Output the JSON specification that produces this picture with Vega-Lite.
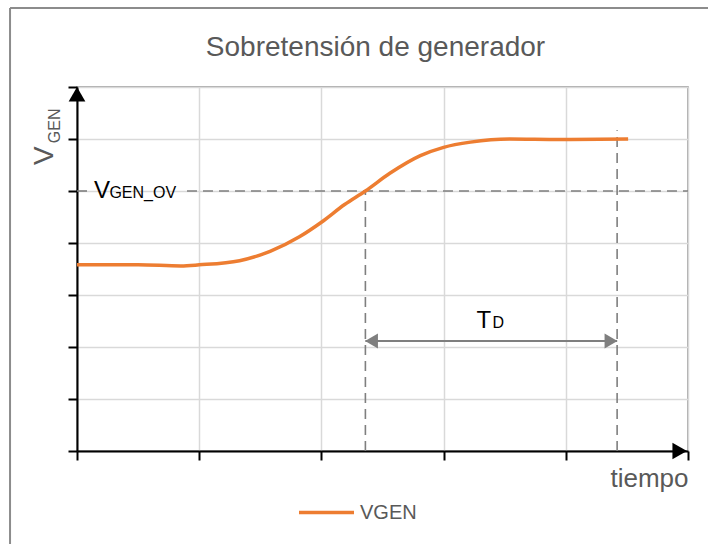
{
  "$schema": "https://vega.github.io/schema/vega-lite/v6.json",
  "width": 611,
  "height": 364,
  "autosize": "none",
  "padding": {"left": 77, "top": 87, "right": 20, "bottom": 93},
  "background": "white",
  "title": {"text": "Sobretensión de generador", "fontSize": 28, "font": "Liberation Sans", "fontWeight": "normal", "color": "#595959", "baseline": "alphabetic", "offset": 0, "dy": 77, "dx": -7},
  "config": {"view": {"stroke": "#8c8c8c", "strokeWidth": 1.5}, "font": "Liberation Sans"},
  "datasets": {
    "curve": [
      {"x": 0.0, "y": 3.58, "serie": "VGEN"},
      {"x": 0.5, "y": 3.58, "serie": "VGEN"},
      {"x": 0.85, "y": 3.56, "serie": "VGEN"},
      {"x": 1.0, "y": 3.58, "serie": "VGEN"},
      {"x": 1.33, "y": 3.66, "serie": "VGEN"},
      {"x": 1.58, "y": 3.84, "serie": "VGEN"},
      {"x": 1.82, "y": 4.12, "serie": "VGEN"},
      {"x": 2.0, "y": 4.4, "serie": "VGEN"},
      {"x": 2.19, "y": 4.74, "serie": "VGEN"},
      {"x": 2.36, "y": 5.0, "serie": "VGEN"},
      {"x": 2.56, "y": 5.34, "serie": "VGEN"},
      {"x": 2.81, "y": 5.68, "serie": "VGEN"},
      {"x": 3.0, "y": 5.84, "serie": "VGEN"},
      {"x": 3.22, "y": 5.94, "serie": "VGEN"},
      {"x": 3.54, "y": 6.0, "serie": "VGEN"},
      {"x": 3.95, "y": 5.99, "serie": "VGEN"},
      {"x": 4.51, "y": 6.0, "serie": "VGEN"}
    ],
    "guides": [
      {"x": 0.0, "y": 5.0, "x2": 0.1, "y2": 5.0},
      {"x": 0.9, "y": 5.0, "x2": 5.0, "y2": 5.0},
      {"x": 2.36, "y": 0.0, "x2": 2.36, "y2": 5.0},
      {"x": 4.42, "y": 0.0, "x2": 4.42, "y2": 6.17}
    ],
    "span": [{"x": 2.36, "x2": 4.42, "y": 2.115}],
    "headLeft": [{"x": 2.41, "y": 2.115}],
    "headRight": [{"x": 4.37, "y": 2.115}],
    "axisUp": [{"x": 0.0, "y": 6.86}],
    "axisRight": [{"x": 4.932, "y": 0.0}],
    "bigText": [
      {"x": 0.139, "y": 4.865, "label": "V"},
      {"x": 3.27, "y": 2.356, "label": "T"}
    ],
    "subText": [
      {"x": 0.265, "y": 4.865, "label": "GEN_OV"},
      {"x": 3.4, "y": 2.356, "label": "D"}
    ],
    "axisBig": [{"x": -0.196, "y": 5.5, "label": "V"}],
    "axisSub": [{"x": -0.139, "y": 5.92, "label": "GEN"}],
    "frame": [
      {"x": -0.548, "y": -2.0, "x2": -0.548, "y2": 8.52},
      {"x": -0.548, "y": 8.52, "x2": 5.4, "y2": 8.52}
    ]
  },
  "encoding": {
    "x": {
      "field": "x", "type": "quantitative",
      "scale": {"domain": [0, 5], "nice": false, "zero": false},
      "axis": {
        "values": [0, 1, 2, 3, 4, 5], "labels": false, "grid": true, "gridColor": "#d9d9d9", "gridWidth": 1.5,
        "domainColor": "#000000", "domainWidth": 2, "tickColor": "#000000", "tickWidth": 2, "tickSize": 9,
        "title": "tiempo", "titleAnchor": "end", "titleAlign": "right", "titleFontSize": 26, "titleFontWeight": "normal",
        "titleColor": "#595959", "titleFont": "Liberation Sans", "titlePadding": 4
      }
    },
    "y": {
      "field": "y", "type": "quantitative",
      "scale": {"domain": [0, 7], "nice": false, "zero": false},
      "axis": {
        "values": [0, 1, 2, 3, 4, 5, 6, 7], "labels": false, "grid": true, "gridColor": "#d9d9d9", "gridWidth": 1.5,
        "domainColor": "#000000", "domainWidth": 2, "tickColor": "#000000", "tickWidth": 2, "tickSize": 9, "title": null
      }
    }
  },
  "layer": [
    {
      "data": {"name": "frame"},
      "mark": {"type": "rule", "color": "#8c8c8c", "strokeWidth": 2},
      "encoding": {"x2": {"field": "x2"}, "y2": {"field": "y2"}}
    },
    {
      "data": {"name": "guides"},
      "mark": {"type": "rule", "color": "#7f7f7f", "strokeWidth": 1.6, "strokeDash": [10, 6]},
      "encoding": {"x2": {"field": "x2"}, "y2": {"field": "y2"}}
    },
    {
      "data": {"name": "span"},
      "mark": {"type": "rule", "color": "#7f7f7f", "strokeWidth": 2},
      "encoding": {"x2": {"field": "x2"}}
    },
    {
      "data": {"name": "headLeft"},
      "mark": {"type": "point", "shape": "triangle-left", "filled": true, "color": "#7f7f7f", "size": 220, "opacity": 1}
    },
    {
      "data": {"name": "headRight"},
      "mark": {"type": "point", "shape": "triangle-right", "filled": true, "color": "#7f7f7f", "size": 220, "opacity": 1}
    },
    {
      "data": {"name": "curve"},
      "mark": {"type": "line", "interpolate": "monotone", "strokeWidth": 3.5},
      "encoding": {
        "color": {
          "field": "serie", "type": "nominal",
          "scale": {"range": ["#ed7d31"]},
          "legend": {
            "title": null, "orient": "none", "legendX": 220, "legendY": 396, "symbolType": "stroke",
            "symbolSize": 3025, "symbolStrokeWidth": 3.5, "labelFontSize": 20, "labelColor": "#595959",
            "labelFont": "Liberation Sans", "labelOffset": 4, "padding": 0
          }
        }
      }
    },
    {
      "data": {"name": "axisUp"},
      "mark": {"type": "point", "shape": "triangle-up", "filled": true, "color": "#000000", "size": 280, "opacity": 1}
    },
    {
      "data": {"name": "axisRight"},
      "mark": {"type": "point", "shape": "triangle-right", "filled": true, "color": "#000000", "size": 280, "opacity": 1}
    },
    {
      "data": {"name": "bigText"},
      "mark": {"type": "text", "align": "left", "baseline": "alphabetic", "fontSize": 24, "color": "#000000", "font": "Liberation Sans"},
      "encoding": {"text": {"field": "label"}}
    },
    {
      "data": {"name": "subText"},
      "mark": {"type": "text", "align": "left", "baseline": "alphabetic", "fontSize": 16, "color": "#000000", "font": "Liberation Sans"},
      "encoding": {"text": {"field": "label"}}
    },
    {
      "data": {"name": "axisBig"},
      "mark": {"type": "text", "align": "left", "baseline": "alphabetic", "angle": 270, "fontSize": 28, "color": "#595959", "font": "Liberation Sans"},
      "encoding": {"text": {"field": "label"}}
    },
    {
      "data": {"name": "axisSub"},
      "mark": {"type": "text", "align": "left", "baseline": "alphabetic", "angle": 270, "fontSize": 16, "color": "#595959", "font": "Liberation Sans"},
      "encoding": {"text": {"field": "label"}}
    }
  ]
}
